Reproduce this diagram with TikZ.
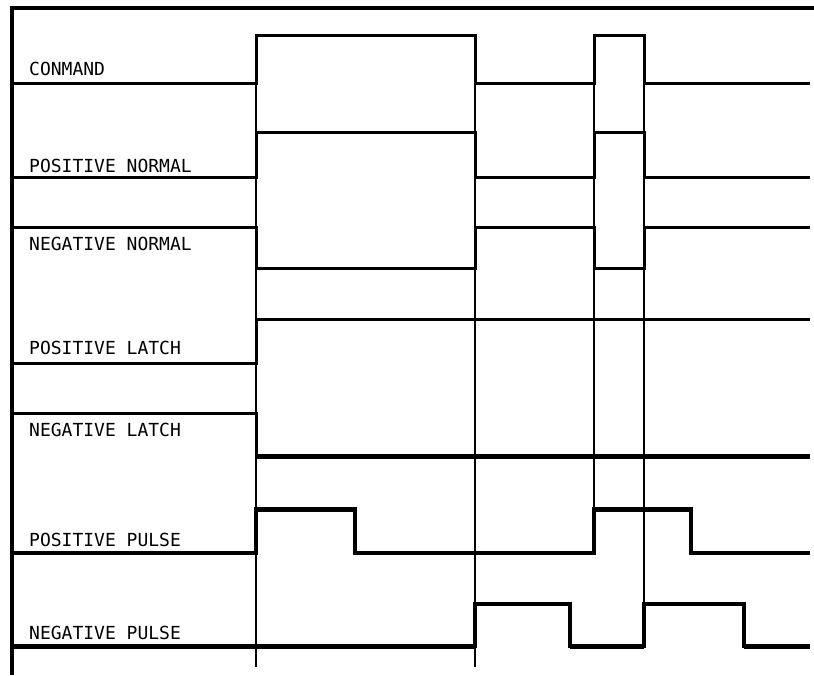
\documentclass[tikz,border=0pt]{standalone}
\usepackage{fontspec}
\newfontfamily\labfont{DejaVu Sans Mono}
\begin{document}
\begin{tikzpicture}[x=1pt,y=-1pt,
  sig/.style={line width=3pt,line join=miter,line cap=butt},
  sigthick/.style={line width=5pt,line join=miter,line cap=butt},
  grid/.style={line width=1.3pt},
  frame/.style={line width=4pt},
  lab/.style={anchor=base west,inner sep=0pt,font=\labfont\fontsize{18}{20}\selectfont}]
\useasboundingbox[fill=white] (0,0) rectangle (814,675);
% frame
\draw[frame] (11.5,675) -- (11.5,8) -- (814,8);
% thin time markers
\draw[grid] (256,35) -- (256,667);
\draw[grid] (475,35) -- (475,667);
\draw[grid] (594,35) -- (594,509);
\draw[grid] (644,35) -- (644,604);
% COMMAND
\draw[sig] (14,83) -- (256,83) -- (256,35) -- (475,35) -- (475,83) -- (594,83) -- (594,35) -- (644,35) -- (644,83) -- (810,83);
% POSITIVE NORMAL
\draw[sig] (14,177) -- (256,177) -- (256,132) -- (475,132) -- (475,177) -- (594,177) -- (594,132) -- (644,132) -- (644,177) -- (810,177);
% NEGATIVE NORMAL
\draw[sig] (14,227) -- (256,227) -- (256,268) -- (475,268) -- (475,227) -- (594,227) -- (594,268) -- (644,268) -- (644,227) -- (810,227);
% POSITIVE LATCH
\draw[sig] (14,363) -- (256,363) -- (256,319) -- (810,319);
% NEGATIVE LATCH
\draw[sig] (14,413) -- (256,413) -- (256,456);
\draw[sigthick] (256,456) -- (810,456);
% POSITIVE PULSE
\draw[sig,line width=3.5pt] (14,553) -- (256,553) -- (256,509) -- (355,509) -- (355,553) -- (594,553) -- (594,509) -- (691,509) -- (691,553) -- (810,553);
\draw[sigthick] (256,509) -- (355,509);
\draw[sigthick] (594,509) -- (691,509);
% NEGATIVE PULSE
\draw[sig,line width=3.5pt] (14,646) -- (475,646) -- (475,604) -- (570,604) -- (570,646) -- (644,646) -- (644,604) -- (744,604) -- (744,646) -- (810,646);
\draw[sigthick] (14,646) -- (475,646);
\draw[sigthick] (570,646) -- (644,646);
\draw[sigthick] (744,646) -- (810,646);
% labels
\node[lab] (lcmd) at (29,75) {CONMAND};
\node[lab] (lpn) at (29,172) {POSITIVE NORMAL};
\node[lab] (lnn) at (29,250) {NEGATIVE NORMAL};
\node[lab] (lpl) at (29,354) {POSITIVE LATCH};
\node[lab] (lnl) at (29,436) {NEGATIVE LATCH};
\node[lab] (lpp) at (29,546) {POSITIVE PULSE};
\node[lab] (lnp) at (29,639) {NEGATIVE PULSE};
\end{tikzpicture}
\end{document}
